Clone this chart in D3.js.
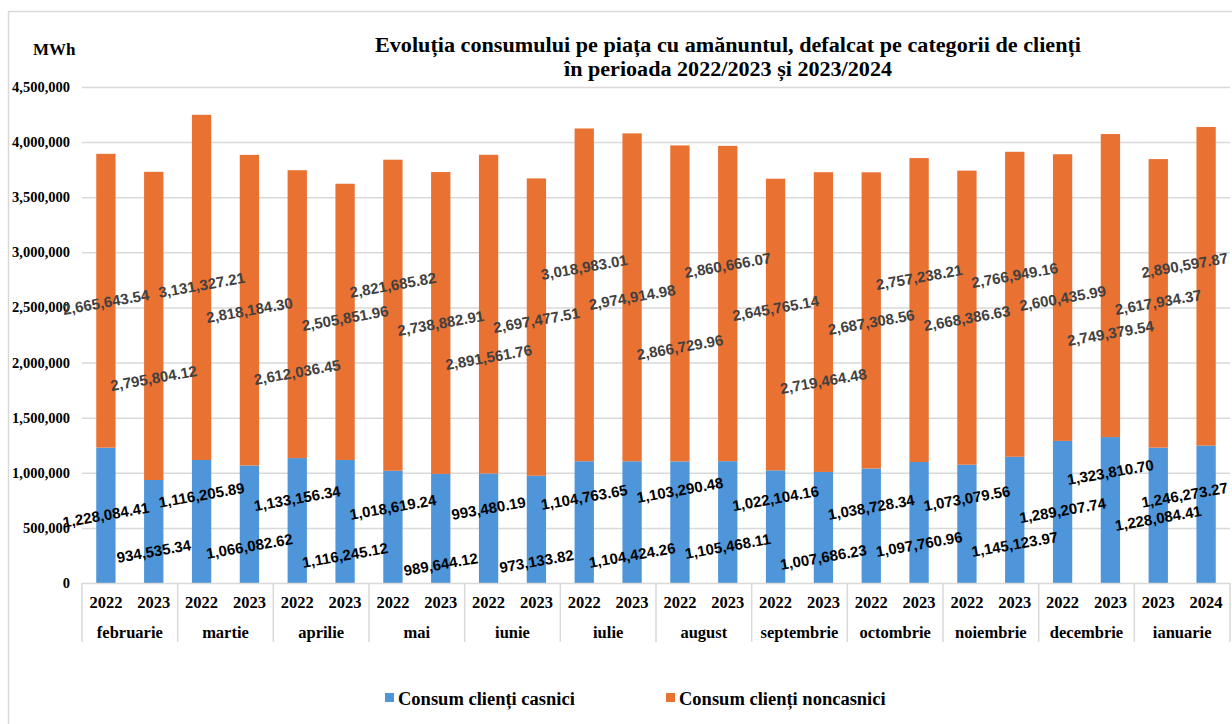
<!DOCTYPE html>
<html><head><meta charset="utf-8">
<script src="https://cdn.jsdelivr.net/npm/d3@7"></script>
<style>body{margin:0;background:#fff}svg{display:block}</style>
</head><body><svg id="c" width="1232" height="724"></svg>
<script>
// ---- data ----
const months = ["februarie","martie","aprilie","mai","iunie","iulie","august","septembrie","octombrie","noiembrie","decembrie","ianuarie"];
const years = ["2022","2023","2022","2023","2022","2023","2022","2023","2022","2023","2022","2023",
               "2022","2023","2022","2023","2022","2023","2022","2023","2022","2023","2023","2024"];
const casnici = [1228084.41, 934535.34, 1116205.89, 1066082.62, 1133156.34, 1116245.12, 1018619.24, 989644.12,
                 993480.19, 973133.82, 1104763.65, 1104424.26, 1103290.48, 1105468.11, 1022104.16, 1007686.23,
                 1038728.34, 1097760.96, 1073079.56, 1145123.97, 1289207.74, 1323810.70, 1228084.41, 1246273.27];
const noncasnici = [2665643.54, 2795804.12, 3131327.21, 2818184.30, 2612036.45, 2505851.96, 2821685.82, 2738882.91,
                    2891561.76, 2697477.51, 3018983.01, 2974914.98, 2866729.96, 2860666.07, 2645765.14, 2719464.48,
                    2687308.56, 2757238.21, 2668386.63, 2766949.16, 2600435.99, 2749379.54, 2617934.37, 2890597.87];
const yTicks = [0, 500000, 1000000, 1500000, 2000000, 2500000, 3000000, 3500000, 4000000, 4500000];
const seriesNames = ["Consum clienți casnici", "Consum clienți noncasnici"];
const titleLines = ["Evoluția consumului pe piața cu amănuntul, defalcat pe categorii de clienți",
                    "în perioada 2022/2023 și 2023/2024"];
const unitLabel = "MWh";
// data-label placement (value level, in MWh, where each label sits — as placed in the original)
const casniciLabelAt = [620000, 290000, 800000, 336000, 770000, 254000, 690000, 172000, 680000, 200000, 780000, 254000,
                        845000, 336000, 770000, 236000, 690000, 354000, 770000, 354000, 660000, 1007000, 590000, 800000];
const noncasniciLabelAt = [2550000, 1860000, 2705000, 2477000, 1915000, 2404000, 2705000, 2360000, 2050000, 2386000, 2867000, 2595000,
                           2141000, 2885000, 2495000, 1833000, 2368000, 2776000, 2404000, 2794000, 2586000, 2268000, 2550000, 2885000];

// ---- layout ----
const W = 1232, H = 724;
const plot = {left: 82, right: 1230, top: 87, bottom: 583};
const colors = ["#4E95D9", "#E97132"];
const serif = "'Liberation Serif','Times New Roman',serif";
const sans = "'Liberation Sans',Arial,sans-serif";

const svg = d3.select("#c");
svg.append("rect").attr("x", 8.5).attr("y", 11.5).attr("width", 1240).attr("height", 730)
   .attr("fill", "#fff").attr("stroke", "#d9d9d9").attr("stroke-width", 1.5);

const idx = d3.range(casnici.length);
const x = d3.scaleBand().domain(idx).range([plot.left, plot.right]).paddingInner(0.5965).paddingOuter(0.298);
const xm = d3.scaleBand().domain(months).range([plot.left, plot.right]);
const y = d3.scaleLinear().domain([0, 4500000]).range([plot.bottom, plot.top]);

// gridlines
svg.append("g").selectAll("line").data(yTicks.filter(d => d > 0)).join("line")
  .attr("x1", plot.left).attr("x2", plot.right)
  .attr("y1", d => y(d) + 0.5).attr("y2", d => y(d) + 0.5)
  .attr("stroke", "#d9d9d9").attr("stroke-width", 1.5);

// y tick labels
const fmt = d3.format(",");
svg.append("g").selectAll("text").data(yTicks).join("text")
  .attr("x", 70).attr("y", d => y(d) + 5)
  .attr("text-anchor", "end")
  .style("font-family", serif).style("font-weight", "bold").style("font-size", "14.5px").attr("fill", "#000")
  .text(d => fmt(d));

svg.append("text").attr("x", 33).attr("y", 55)
  .style("font-family", serif).style("font-weight", "bold").style("font-size", "17px").text(unitLabel);

// title
titleLines.forEach((t, i) => {
  svg.append("text").attr("x", 728).attr("y", 52 + i * 24).attr("text-anchor", "middle")
    .attr("textLength", i === 0 ? 706 : 328).attr("lengthAdjust", "spacingAndGlyphs")
    .style("font-family", serif).style("font-weight", "bold").style("font-size", "20px").text(t);
});

// stacked bars
const stackData = idx.map(i => ({i, casnici: casnici[i], noncasnici: noncasnici[i]}));
const stacked = d3.stack().keys(["casnici", "noncasnici"])(stackData);
svg.append("g").selectAll("g").data(stacked).join("g")
  .attr("fill", (d, k) => colors[k])
  .selectAll("rect").data(d => d).join("rect")
  .attr("x", d => x(d.data.i)).attr("width", x.bandwidth())
  .attr("y", d => y(d[1])).attr("height", d => y(d[0]) - y(d[1]));

// x axis table
const axisTop = plot.bottom, axisBottom = 642;
const ax = svg.append("g").attr("stroke", "#d9d9d9").attr("stroke-width", 1.5);
ax.append("line").attr("x1", plot.left).attr("x2", plot.right).attr("y1", axisTop + 0.5).attr("y2", axisTop + 0.5);
const seps = months.map(m => xm(m)).concat([plot.right]);
ax.selectAll("line.sep").data(seps).join("line").attr("class", "sep")
  .attr("x1", d => d).attr("x2", d => d).attr("y1", axisTop).attr("y2", axisBottom);

svg.append("g").selectAll("text").data(idx).join("text")
  .attr("x", i => x(i) + x.bandwidth() / 2).attr("y", 608).attr("text-anchor", "middle")
  .style("font-family", serif).style("font-weight", "bold").style("font-size", "16.5px")
  .text(i => years[i]);
svg.append("g").selectAll("text").data(months).join("text")
  .attr("x", m => xm(m) + xm.bandwidth() / 2).attr("y", 638).attr("text-anchor", "middle")
  .style("font-family", serif).style("font-weight", "bold").style("font-size", "16.5px")
  .text(m => m);

// data labels
const labelFmt = d3.format(",.2f");
const ang = 10 * Math.PI / 180;
function addLabels(values, at, color) {
  const g = svg.append("g");
  idx.forEach(i => {
    let cx = x(i) + x.bandwidth() / 2;
    const t = g.append("text")
      .attr("text-anchor", "middle").attr("dominant-baseline", "central")
      .style("font-family", sans).style("font-weight", "bold").style("font-size", "15px")
      .attr("fill", color).text(labelFmt(values[i]));
    const w = t.node().getComputedTextLength();
    const half = (w * Math.cos(ang) + 15 * Math.sin(ang)) / 2;
    if (cx + half > W - 3) cx = W - 3 - half;
    t.attr("transform", `translate(${cx},${y(at[i])}) rotate(-10)`);
  });
}
addLabels(noncasnici, noncasniciLabelAt, "#404040");
addLabels(casnici, casniciLabelAt, "#000");

// legend
const legendItems = [{name: seriesNames[0], c: colors[0], x: 385}, {name: seriesNames[1], c: colors[1], x: 666}];
const lg = svg.append("g");
legendItems.forEach(d => {
  lg.append("rect").attr("x", d.x).attr("y", 693).attr("width", 9).attr("height", 9).attr("fill", d.c);
  lg.append("text").attr("x", d.x + 13).attr("y", 705)
    .style("font-family", serif).style("font-weight", "bold").style("font-size", "18.5px").text(d.name);
});
</script>
</body></html>
